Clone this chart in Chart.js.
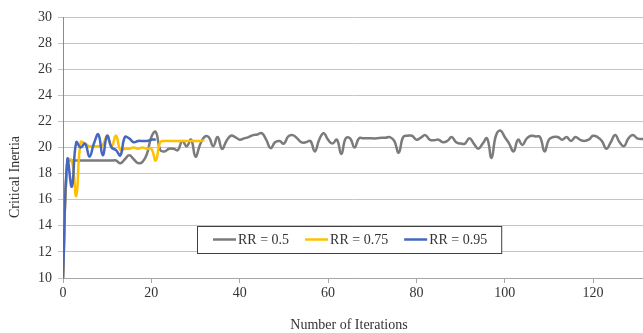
<!DOCTYPE html>
<html lang="en">
<head>
<meta charset="UTF-8">
<meta name="viewport" content="width=device-width, initial-scale=1.0">
<title>Critical Inertia vs Number of Iterations</title>
<script src="https://cdn.jsdelivr.net/npm/chart.js@4.4.9/dist/chart.umd.js"></script>
<style>
    html, body { margin: 0; padding: 0; background: #fff; }
    .chart-container { width: 643px; height: 333px; position: relative; }
</style>
</head>
<body>
<div class="chart-container"><canvas id="inertia-chart"></canvas></div>
<script>
// series labels and values, one value per iteration starting at 0
const seriesLabels = ['RR = 0.5', 'RR = 0.75', 'RR = 0.95'];
const seriesColors = ['#7b7b7b', '#ffc000', '#4766bd'];

const rr050 = [
    10, 19.0, 19.0, 19.0, 19.0, 19.0, 19.0, 19.0, 19.0, 19.0,
    19.0, 19.0, 19.0, 18.8, 19.1, 19.4, 19.1, 18.8, 18.9, 19.5,
    20.8, 21.2, 19.8, 19.7, 19.9, 19.9, 19.8, 20.5, 20.1, 20.6,
    19.3, 20.2, 20.8, 20.8, 20.1, 20.8, 19.9, 20.5, 20.9, 20.8,
    20.6, 20.7, 20.8, 20.95, 21.0, 21.1, 20.6, 19.95, 20.4, 20.5,
    20.3, 20.85, 20.95, 20.7, 20.4, 20.4, 20.5, 19.7, 20.6, 21.1,
    20.6, 20.3, 20.6, 19.5, 20.7, 20.7, 20.0, 20.7, 20.7, 20.7,
    20.7, 20.7, 20.75, 20.75, 20.8, 20.5, 19.6, 20.8, 20.9, 20.9,
    20.6, 20.75, 20.95, 20.6, 20.55, 20.6, 20.4, 20.5, 20.8, 20.4,
    20.3, 20.3, 20.7, 20.3, 19.9, 20.3, 20.7, 19.2, 20.9, 21.3,
    20.8, 20.3, 19.7, 20.6, 20.2, 20.7, 20.9, 20.85, 20.8, 19.7,
    20.6, 20.8, 20.8, 20.6, 20.8, 20.5, 20.8, 20.6, 20.5, 20.6,
    20.9, 20.8, 20.5, 19.9, 20.4, 20.95, 20.4, 20.1, 20.7, 20.95,
    20.7, 20.65, 20.7
];
const rr075 = [
    10, 19.0, 19.0, 16.3, 20.4, 20.3, 20.1, 20.1, 20.1, 20.2,
    20.9, 20.1, 20.9, 19.8, 19.9, 19.9, 20.0, 19.9, 20.0, 19.9,
    19.9, 19.0, 20.4, 20.5, 20.5, 20.5, 20.5, 20.5, 20.5, 20.5,
    20.5, 20.5, 20.55
];
const rr095 = [
    10, 19.1, 17.0, 20.4, 20.0, 20.3, 19.3, 20.3, 21.0, 19.4,
    20.9, 20.0, 19.8, 19.4, 20.8, 20.7, 20.4, 20.5, 20.5, 20.5,
    20.6, 20.6
];

const xTickStep = 20;
const yTicks = { min: 10, max: 30, step: 2 };

const serif = "'Liberation Serif', 'Times New Roman', serif";
const textColor = '#333333';

function toPoints(values) {
    return values.map((v, i) => ({ x: i, y: v }));
}

// axis titles and the boxed legend inside the plot, Excel style
const excelExtras = {
    id: 'excelExtras',
    afterDatasetsDraw(chart) {
        const ctx = chart.ctx;
        ctx.save();
        ctx.font = '14px ' + serif;
        ctx.fillStyle = textColor;
        ctx.textBaseline = 'middle';

        // legend box
        const items = chart.data.datasets;
        let x = 213;
        const y = 239.5;
        const top = 226, bottom = 253, left = 197;
        let right = x;
        items.forEach(ds => { right += 25 + ctx.measureText(ds.label).width + 16; });
        right = right - 16 + 14;
        ctx.fillStyle = '#ffffff';
        ctx.fillRect(left, top, right - left, bottom - top);
        ctx.strokeStyle = '#404040';
        ctx.lineWidth = 1;
        ctx.strokeRect(left + 0.5, top + 0.5, right - left, bottom - top);
        items.forEach(ds => {
            ctx.strokeStyle = ds.borderColor;
            ctx.lineWidth = 2.5;
            ctx.beginPath();
            ctx.moveTo(x, y);
            ctx.lineTo(x + 23, y);
            ctx.stroke();
            ctx.fillStyle = textColor;
            ctx.textAlign = 'left';
            ctx.fillText(ds.label, x + 25, y + 1);
            x += 25 + ctx.measureText(ds.label).width + 16;
        });

        // axis titles
        ctx.textAlign = 'center';
        ctx.fillText('Number of Iterations', 349, 325);
        ctx.translate(15, 177);
        ctx.rotate(-Math.PI / 2);
        ctx.fillText('Critical Inertia', 0, 0);
        ctx.restore();
    }
};

document.addEventListener('DOMContentLoaded', function () {
    const datasets = [rr050, rr075, rr095].map((values, i) => ({
        label: seriesLabels[i],
        data: toPoints(values),
        borderColor: seriesColors[i],
        backgroundColor: seriesColors[i],
        borderWidth: 2.5,
        pointRadius: 0,
        tension: 0.45,
        fill: false,
        order: 2 - i
    }));

    new Chart(document.getElementById('inertia-chart'), {
        type: 'line',
        data: { datasets: datasets },
        plugins: [excelExtras],
        options: {
            responsive: true,
            maintainAspectRatio: false,
            animation: false,
            layout: { padding: { top: 17, right: 0, bottom: 0, left: 0 } },
            plugins: {
                legend: { display: false },
                tooltip: { enabled: false }
            },
            scales: {
                x: {
                    type: 'linear',
                    min: 0,
                    max: 131.3,
                    afterFit: s => { s.height = 55; },
                    ticks: {
                        stepSize: xTickStep,
                        includeBounds: false,
                        maxRotation: 0,
                        padding: 2,
                        color: textColor,
                        font: { family: serif, size: 14 }
                    },
                    grid: {
                        drawOnChartArea: false,
                        drawTicks: true,
                        tickLength: 5,
                        color: '#a6a6a6'
                    },
                    border: { color: '#a6a6a6' }
                },
                y: {
                    min: yTicks.min,
                    max: yTicks.max,
                    afterFit: s => { s.width = 63; },
                    ticks: {
                        stepSize: yTicks.step,
                        padding: 6,
                        color: textColor,
                        font: { family: serif, size: 14 }
                    },
                    grid: {
                        color: '#c4c4c4',
                        tickLength: 5
                    },
                    border: { color: '#8c8c8c' }
                }
            }
        }
    });
});
</script>
</body>
</html>
